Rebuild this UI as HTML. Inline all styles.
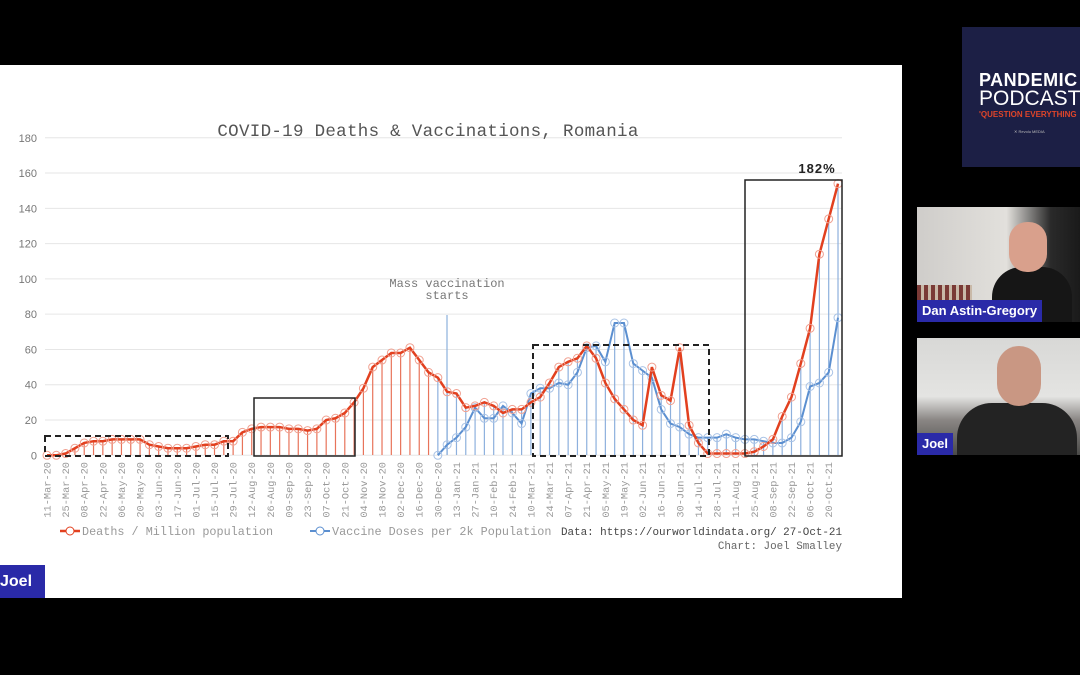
<!DOCTYPE html>
<html><head><meta charset="utf-8"><style>
html,body{margin:0;padding:0;background:#000;width:1080px;height:675px;overflow:hidden;font-family:"Liberation Sans",sans-serif}
#slide{position:absolute;left:0;top:65px;width:902px;height:533px;background:#fff}
svg{position:absolute;left:0;top:0}
.logo{position:absolute;left:962px;top:27px;width:118px;height:140px;background:#1c1f45;color:#fff;overflow:hidden}
.tile{position:absolute;left:917px;width:163px;overflow:hidden}
.lbl{position:absolute;background:#2a2aa8;color:#fff;font-weight:bold;font-size:13px;padding:0 5px;line-height:22px}
</style></head><body>
<div id="slide"></div>
<div class="logo">
<div style="position:absolute;left:17px;top:43px;font-weight:bold;font-size:18px;letter-spacing:0.5px">PANDEMIC</div>
<div style="position:absolute;left:17px;top:60px;font-size:21px">PODCAST</div>
<div style="position:absolute;left:17px;top:83px;font-size:8px;color:#e0452a;font-weight:bold">'QUESTION EVERYTHING</div>
<div style="position:absolute;left:52px;top:102px;font-size:4px;color:#bbb">✕ Revolu MEDIA</div>
</div>
<div class="tile" style="top:207px;height:115px;background:linear-gradient(90deg,#cfcdca 0,#e2e0dc 55%,#2a2a2a 82%,#1a1a1a 100%)">
<div style="position:absolute;left:0;top:78px;width:55px;height:22px;background:repeating-linear-gradient(90deg,#7a3a36 0 4px,#c9b9a8 4px 7px)"></div>
<div style="position:absolute;left:75px;top:60px;width:80px;height:60px;background:#161616;border-radius:30px 30px 0 0"></div>
<div style="position:absolute;left:92px;top:15px;width:38px;height:50px;background:#d9a08c;border-radius:18px"></div>
<div class="lbl" style="left:0;top:93px">Dan Astin-Gregory</div>
</div>
<div class="tile" style="top:338px;height:117px;background:linear-gradient(180deg,#d8d8d6 0,#e4e4e2 50%,#8a8684 70%,#4a4a48 100%)">
<div style="position:absolute;left:40px;top:65px;width:120px;height:60px;background:#232323;border-radius:35px 35px 0 0"></div>
<div style="position:absolute;left:80px;top:8px;width:44px;height:60px;background:#c99783;border-radius:22px"></div>
<div class="lbl" style="left:0;top:95px">Joel</div>
</div>
<div class="lbl" style="left:0;top:565px;height:33px;line-height:33px;font-size:16px;padding:0 8px 0 0;width:37px">Joel</div>
<svg id="c" width="1080" height="675" xmlns="http://www.w3.org/2000/svg"></svg>
<script>
var s=document.getElementById('c'),h='';
var X=function(i){return 47+i*9.306},Y=function(v){return 455.3-v*1.764};
var mono='font-family="Liberation Mono, monospace"';
for(var v=0;v<=180;v+=20){h+='<line x1="45" x2="842" y1="'+Y(v)+'" y2="'+Y(v)+'" stroke="#e6e6e6" stroke-width="1"/>';
h+='<text x="37" y="'+(Y(v)+4)+'" font-size="11" fill="#777" text-anchor="end" font-family="Liberation Sans, sans-serif">'+v+'</text>';}
var d=[0,0,1,4,7,8,8,9,9,9,9,6,5,4,4,4,5,6,6,8,8,13,15,16,16,16,15,15,14,15,20,21,24,30,38,50,54,58,58,61,54,47,44,36,35,27,28,30,28,24,26,26,30,33,41,50,53,55,62,55,41,32,26,20,17,50,34,31,61,17,7,1,1,1,1,1,2,5,9,22,33,52,72,114,134,154];
var vc={42:0,43:6,44:10,45:16,46:27,47:21,48:21,49:28,50:24,51:18,52:35,53:38,54:38,55:41,56:40,57:47,58:61,59:62,60:53,61:75,62:75,63:52,64:48,65:44,66:26,67:18,68:16,69:12,70:10,71:10,72:10,73:12,74:10,75:9,76:9,77:8,78:7,79:7,80:10,81:19,82:39,83:41,84:47,85:78};
for(var i=0;i<=41;i++)h+='<line x1="'+X(i)+'" x2="'+X(i)+'" y1="455" y2="'+Y(d[i])+'" stroke="#e8735a" stroke-width="1.2"/>';
for(var i=42;i<=85;i++){var t=Math.max(vc[i],d[i]);h+='<line x1="'+X(i)+'" x2="'+X(i)+'" y1="455" y2="'+Y(t)+'" stroke="#8db0dd" stroke-width="1.2"/>';}
h+='<line x1="447" x2="447" y1="315" y2="455" stroke="#8db0dd" stroke-width="1.2"/>';
var pv='',pd='';for(var i=42;i<=85;i++)pv+=(i==42?'M':'L')+X(i)+' '+Y(vc[i]);
for(var i=0;i<=85;i++)pd+=(i==0?'M':'L')+X(i)+' '+Y(d[i]);
h+='<path d="'+pv+'" fill="none" stroke="#5b8fd0" stroke-width="2"/>';
for(var i=42;i<=85;i++)h+='<circle cx="'+X(i)+'" cy="'+Y(vc[i])+'" r="4" fill="none" stroke="#a9c3e6" stroke-width="1"/>';
h+='<path d="'+pd+'" fill="none" stroke="#e2401f" stroke-width="2.5"/>';
for(var i=0;i<=85;i++)h+='<circle cx="'+X(i)+'" cy="'+Y(d[i])+'" r="4" fill="none" stroke="#f0a090" stroke-width="1"/>';
h+='<rect x="45" y="436" width="183" height="20" fill="none" stroke="#222" stroke-width="2" stroke-dasharray="6,4"/>';
h+='<rect x="254" y="398" width="101" height="58" fill="none" stroke="#222" stroke-width="1.5"/>';
h+='<rect x="533" y="345" width="176" height="111" fill="none" stroke="#222" stroke-width="2" stroke-dasharray="6,4"/>';
h+='<rect x="745" y="180" width="97" height="276" fill="none" stroke="#222" stroke-width="1.5"/>';
h+='<text x="817" y="173" font-size="13" fill="#222" text-anchor="middle" font-weight="bold" letter-spacing="1">182%</text>';
h+='<text x="428" y="136" font-size="17.5" fill="#555" text-anchor="middle" letter-spacing="0.3" '+mono+'>COVID-19 Deaths &amp; Vaccinations, Romania</text>';
h+='<text x="447" y="287" font-size="12" fill="#777" text-anchor="middle" '+mono+'>Mass vaccination</text>';
h+='<text x="447" y="299" font-size="12" fill="#777" text-anchor="middle" '+mono+'>starts</text>';
var m=['Jan','Feb','Mar','Apr','May','Jun','Jul','Aug','Sep','Oct','Nov','Dec'];
var t0=Date.UTC(2020,2,11);
for(var i=0;i<=84;i+=2){var dt=new Date(t0+i*7*864e5);var lab=('0'+dt.getUTCDate()).slice(-2)+'-'+m[dt.getUTCMonth()]+'-'+String(dt.getUTCFullYear()).slice(2);
h+='<text transform="translate('+(X(i)+3.5)+',462) rotate(-90)" font-size="10.3" fill="#999" text-anchor="end" '+mono+'>'+lab+'</text>';}
h+='<line x1="60" x2="80" y1="531" y2="531" stroke="#e2401f" stroke-width="2.5"/><circle cx="70" cy="531" r="4" fill="#fff" stroke="#e2401f"/>';
h+='<text x="82" y="535" font-size="11.8" fill="#999" '+mono+'>Deaths / Million population</text>';
h+='<line x1="310" x2="330" y1="531" y2="531" stroke="#5b8fd0" stroke-width="2"/><circle cx="320" cy="531" r="4" fill="#fff" stroke="#5b8fd0"/>';
h+='<text x="332" y="535" font-size="11.8" fill="#999" '+mono+'>Vaccine Doses per 2k Population</text>';
h+='<text x="842" y="535" font-size="10.9" fill="#444" text-anchor="end" '+mono+'>Data: https://ourworldindata.org/ 27-Oct-21</text>';
h+='<text x="842" y="549" font-size="10.9" fill="#666" text-anchor="end" '+mono+'>Chart: Joel Smalley</text>';
s.innerHTML=h;
</script>
</body></html>
